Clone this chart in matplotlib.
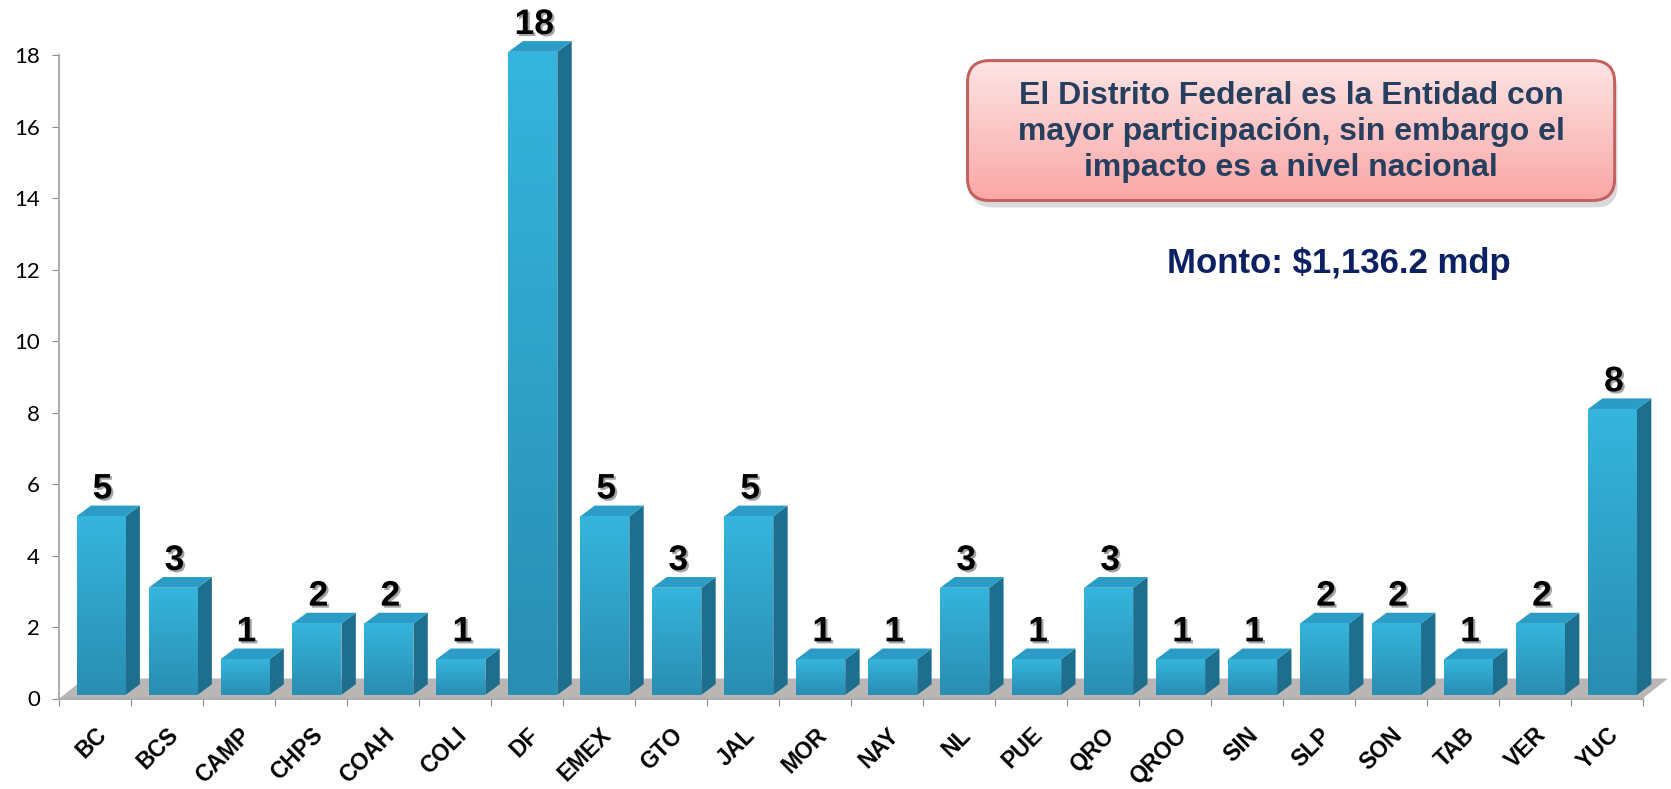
import numpy as np
import matplotlib.pyplot as plt
import matplotlib.patheffects as pe
from matplotlib.patches import Polygon, Rectangle, FancyBboxPatch
from matplotlib.colors import LinearSegmentedColormap

estados = ['BC', 'BCS', 'CAMP', 'CHPS', 'COAH', 'COLI', 'DF', 'EMEX', 'GTO', 'JAL', 'MOR',
           'NAY', 'NL', 'PUE', 'QRO', 'QROO', 'SIN', 'SLP', 'SON', 'TAB', 'VER', 'YUC']
proyectos = [5, 3, 1, 2, 2, 1, 18, 5, 3, 5, 1, 1, 3, 1, 3, 1, 1, 2, 2, 1, 2, 8]
yticks = [0, 2, 4, 6, 8, 10, 12, 14, 16, 18]

nota = 'El Distrito Federal es la Entidad con\nmayor participación, sin embargo el\nimpacto es a nivel nacional'
monto = 'Monto: $1,136.2 mdp'

W, H = 1671, 789
fig = plt.figure(figsize=(W / 100, H / 100), dpi=100)
ax = fig.add_axes([59.3 / W, 1 - 698.5 / H, (1642.7 - 59.3) / W, (698.5 - 55.4) / H])

n = len(estados)
dx, dy = 0.2, 0.3          # fake 3d depth
base = 0.1
azul = LinearSegmentedColormap.from_list('azul', ['#35b5dd', '#2a8db2'])

# floor
ax.add_patch(Polygon([(0, 0), (n, 0), (n + 0.35, 0.56), (0.35, 0.56)], closed=True,
                     fc='#bab6b6', ec='none', zorder=1, clip_on=False))

for i, v in enumerate(proyectos):
    x0, x1 = i + 0.24, i + 0.92
    top = v + base
    front = Rectangle((x0, base), x1 - x0, v, fc='#2fa6cf', ec='none', zorder=3, clip_on=False)
    ax.add_patch(front)
    im = ax.imshow(np.linspace(0, 1, 64).reshape(-1, 1), extent=[x0, x1, base, top],
                   cmap=azul, aspect='auto', zorder=3.1)
    im.set_clip_path(front)
    ax.add_patch(Polygon([(x1, base), (x1 + dx, base + dy), (x1 + dx, top + dy), (x1, top)],
                         closed=True, fc='#1e6f8e', ec='none', zorder=3, clip_on=False))
    ax.add_patch(Polygon([(x0, top), (x0 + dx, top + dy), (x1 + dx, top + dy), (x1, top)],
                         closed=True, fc='#2a9cc5', ec='none', zorder=3, clip_on=False))
    ax.text(i + 0.6, top + 0.5, str(v), ha='center', va='baseline', fontsize=25.5,
            fontweight='bold', family='Liberation Sans', color='black', zorder=5, clip_on=False,
            path_effects=[pe.SimplePatchShadow(offset=(1.5, -1.5), shadow_rgbFace='#666666', alpha=0.6),
                          pe.Normal()])

ax.set_xlim(0, n)
ax.set_ylim(0, 18)

for s in ['top', 'right']:
    ax.spines[s].set_visible(False)
for s in ['left', 'bottom']:
    ax.spines[s].set_color('#a6a6a6')
    ax.spines[s].set_linewidth(1.3)
    ax.spines[s].set_zorder(2)

ax.set_yticks(yticks)
ax.set_yticklabels([str(t) for t in yticks], family='Lato', fontsize=16)
ax.tick_params(axis='y', length=5, color='#8c8c8c', pad=9)

ax.set_xticks(np.arange(n + 1))
ax.set_xticklabels([])
ax.tick_params(axis='x', which='major', length=5, color='#8c8c8c')
ax.set_xticks(np.arange(n) + 0.5, minor=True)
ax.set_xticklabels(estados, minor=True, rotation=45, ha='right', va='top',
                   rotation_mode='anchor', fontsize=16.5, fontweight='bold', family='Liberation Sans')
ax.tick_params(axis='x', which='minor', length=0, pad=18)

# annotation box
bw, bh = 647, 139.7
bx = fig.add_axes([967.6 / W, 1 - 200.4 / H, bw / W, bh / H])
bx.set_xlim(0, bw)
bx.set_ylim(0, bh)
bx.axis('off')
bx.add_patch(FancyBboxPatch((3, -7), bw, bh, boxstyle='round,pad=0,rounding_size=22',
                            fc='black', alpha=0.15, ec='none', clip_on=False, zorder=0))
caja = FancyBboxPatch((0, 0), bw, bh, boxstyle='round,pad=0,rounding_size=22',
                      fc='#fcc8c8', ec='#c4605e', lw=2, clip_on=False, zorder=2)
bx.add_patch(caja)
rosa = LinearSegmentedColormap.from_list('rosa', ['#fde4e4', '#fba7a7'])
gim = bx.imshow(np.linspace(0, 1, 64).reshape(-1, 1), extent=[0, bw, 0, bh],
                cmap=rosa, aspect='auto', zorder=2.5)
gim.set_clip_path(caja)
bx.add_patch(FancyBboxPatch((0, 0), bw, bh, boxstyle='round,pad=0,rounding_size=22',
                            fc='none', ec='#c4605e', lw=2, clip_on=False, zorder=3))
bx.text(bw / 2, bh / 2 - 1.5, nota, ha='center', va='center', fontsize=23, fontweight='bold',
        family='Liberation Sans', color='#263f5f', linespacing=1.27, zorder=4)

fig.text(1339 / W, 1 - 263.5 / H, monto, ha='center', va='center', fontsize=25,
         fontweight='bold', family='Liberation Sans', color='#0b2163')

fig.savefig('out.png', dpi=100)
